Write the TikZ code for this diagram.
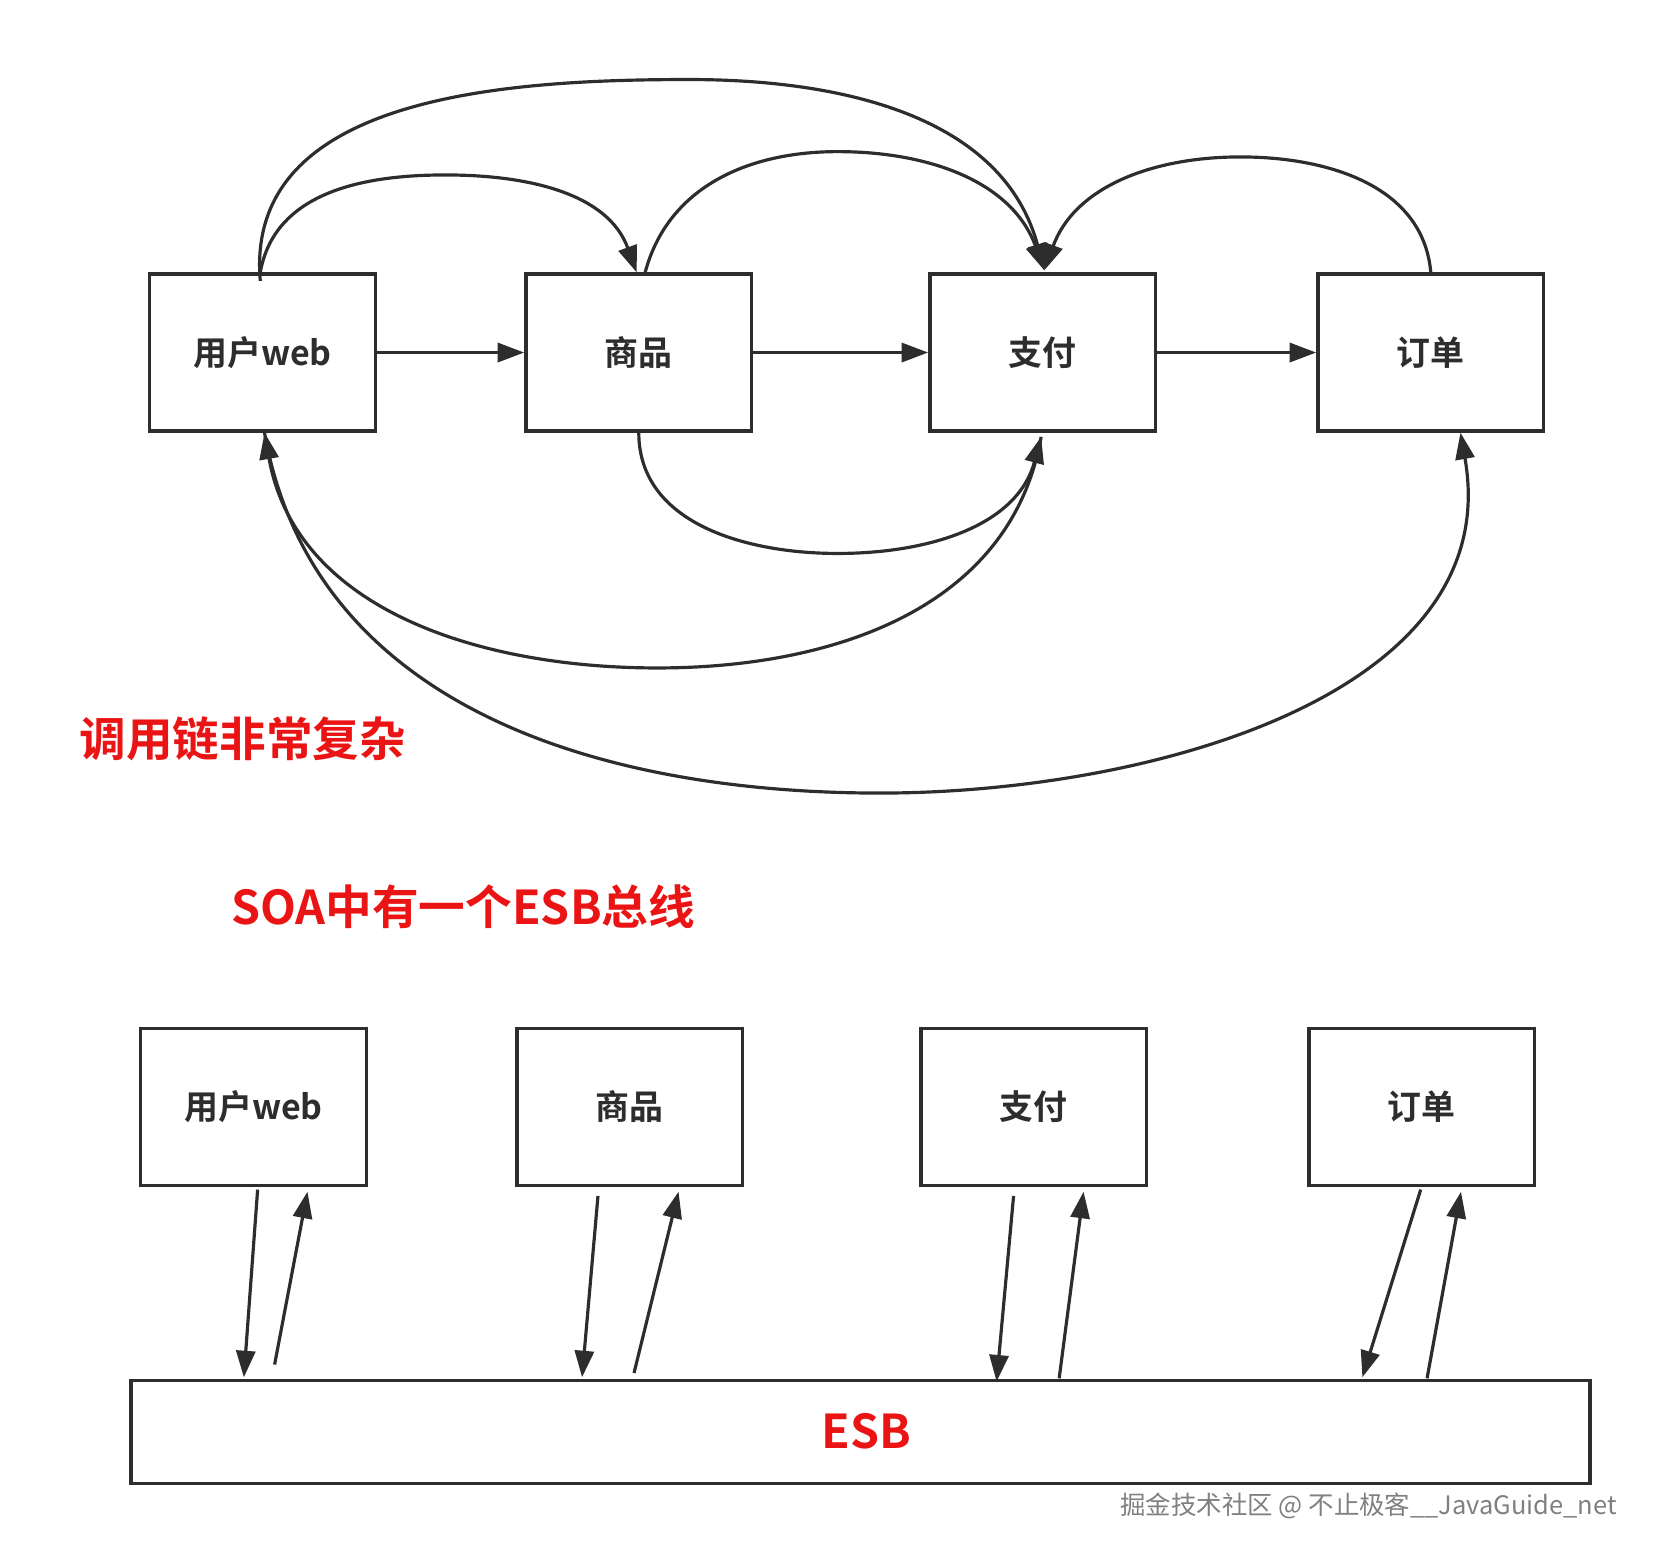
\documentclass[tikz,border=0pt]{standalone}
\usepackage{fontspec}
\setmainfont{Noto Sans CJK SC}
\newfontfamily\cjkb{Noto Sans CJK SC Bold}
\usetikzlibrary{arrows.meta}
\definecolor{ln}{RGB}{45,45,45}
\definecolor{rd}{RGB}{235,20,20}
\begin{document}
\begin{tikzpicture}[x=0.5pt,y=-0.5pt,
  box/.style={draw=ln,line width=1.6pt,minimum width=106.5pt,minimum height=74pt,inner sep=0pt,font=\cjkb\fontsize{16}{18}\selectfont,text=ln},
  arr/.style={draw=ln,line width=1.5pt,-{Triangle[length=12.5pt,width=9pt]}},
  lbl/.style={font=\cjkb\fontsize{22}{24}\selectfont,text=rd}]
\useasboundingbox (0,0) rectangle (1561,1464);
\node[box] (w) at (247.5,332.5) {用户web};
\node[box] (s) at (602.5,332.5) {商品};
\node[box] (p) at (983.5,332.5) {支付};
\node[box] (o) at (1349.5,332.5) {订单};
\draw[arr] (w) -- (s);
\draw[arr] (s) -- (p);
\draw[arr] (p) -- (o);
\coordinate (pt) at (985,255);
\coordinate (pb) at (982,412);
\draw[arr] ([xshift=-1pt,yshift=-4pt]w.north) to[out=95,in=180] (650,75) to[out=0,in=105] (pt);
\draw[arr] ([xshift=-1pt]w.north) to[out=80,in=180] (420,165) to[out=0,in=110] ([xshift=-1pt]s.north);
\draw[arr] ([xshift=3pt]s.north) to[out=75,in=180] (790,143) to[out=0,in=110] (pt);
\draw[arr] (o.north) to[out=95,in=0] (1170,148) to[out=180,in=70] (pt);
\draw[arr] (s.south) to[out=-90,in=180] (790,522) to[out=0,in=-105] (pb);
\draw[arr] (pb) to[out=-100,in=0] (620,630) to[out=180,in=-80] ([xshift=1pt]w.south);
\draw[arr] ([xshift=1pt]w.south) to[out=-80,in=180] (830,748) to[out=0,in=-80] ([xshift=14pt]o.south);
\node[lbl,anchor=west] (t1) at (68,697) {调用链非常复杂};
\node[lbl,anchor=west] (t2) at (211,855) {SOA中有一个ESB总线};
\node[box] (w2) at (239,1044) {用户web};
\node[box] (s2) at (594,1044) {商品};
\node[box] (p2) at (975,1044) {支付};
\node[box] (o2) at (1341,1044) {订单};
\node[draw=ln,line width=1.6pt,minimum width=688pt,minimum height=48.5pt,inner sep=0pt] (e) at (811.5,1350.5) {};
\node[lbl] (et) at (817,1350) {ESB};
\draw[arr] (243,1122) -- (230,1299);
\draw[arr] (259,1287) -- (290,1124);
\draw[arr] (564,1128) -- (549,1299);
\draw[arr] (598,1295) -- (640,1124);
\draw[arr] (956,1128) -- (940,1303);
\draw[arr] (999,1300) -- (1022,1124);
\draw[arr] (1340,1122) -- (1285,1299);
\draw[arr] (1346,1300) -- (1378,1124);
\node[anchor=east,text=gray,font=\fontsize{12}{14}\selectfont] (wm) at (1532,1420) {掘金技术社区 @ 不止极客\_\_JavaGuide\_net};
\end{tikzpicture}
\end{document}
